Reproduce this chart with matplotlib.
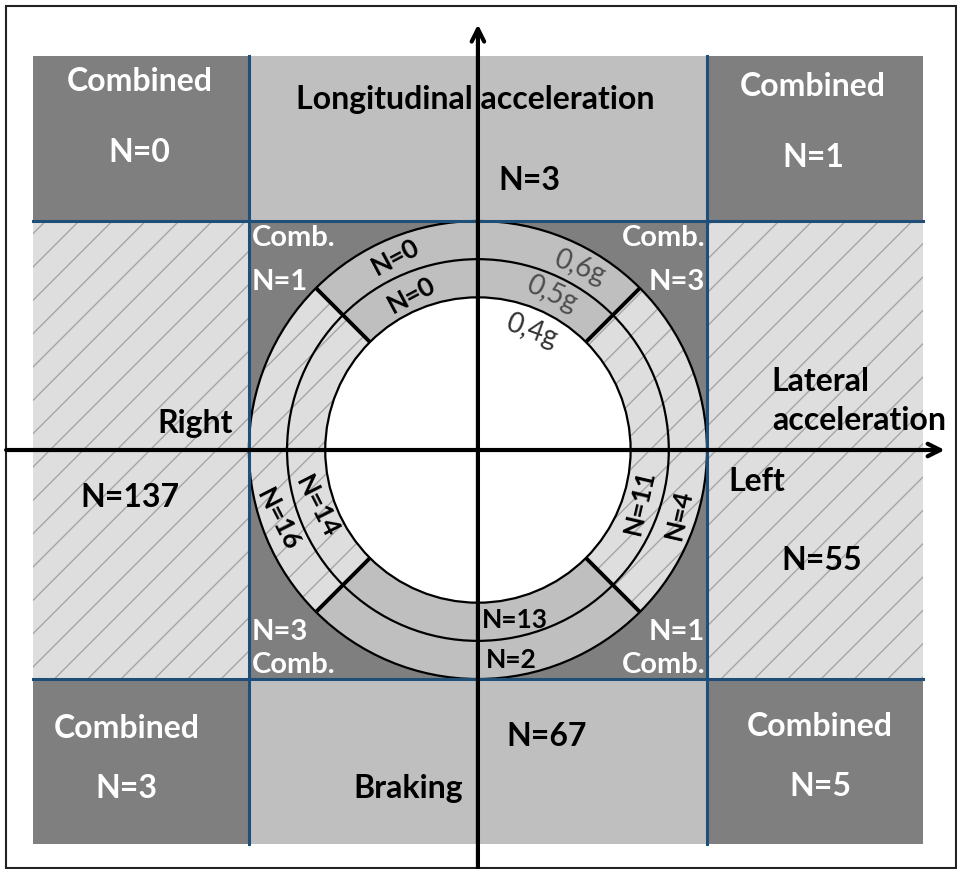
import matplotlib.pyplot as plt
from matplotlib.patches import Rectangle, Wedge, Circle
import numpy as np

# chart values (accelerations in g)
ring_limits = [0.4, 0.5, 0.6]
ring_limit_labels = ['0,4g', '0,5g', '0,6g']
corner_counts = [0, 1, 3, 5]          # top-left, top-right, bottom-left, bottom-right
inner_comb_counts = [1, 3, 3, 1]      # same order, inside the 0.6g square
zone_names = ['Longitudinal acceleration', 'Braking', 'Right', 'Left']
zone_counts = [3, 67, 137, 55]
ring_outer_counts = [0, 16, 2, 4]     # top, left, bottom, right  (0.5g-0.6g)
ring_inner_counts = [0, 14, 13, 11]   # top, left, bottom, right  (0.4g-0.5g)

DARK = '#7f7f7f'
LIGHT = '#bfbfbf'
HATCH_BG = '#dedede'
HATCH_LN = '#a6a6a6'
BLUE = '#1f4e79'
FONT = 'Lato'

plt.rcParams['hatch.linewidth'] = 1.0

fig = plt.figure(figsize=(9.57, 8.7), dpi=100)
ax = fig.add_axes([0, 0, 1, 1])
ax.set_xlim(-1.252, 1.255)
ax.set_ylim(-1.0977, 1.1816)
ax.axis('off')

r_in, r_mid, r_out = ring_limits
sq = r_out
ox, oy = 1.166, 1.032

# outer frame
ax.add_patch(Rectangle((-1.236, -1.095), 2.488, 2.258, fill=False, ec='#222222', lw=1.5, zorder=0))

# outer regions
for sx in (-1, 1):
    for sy in (-1, 1):
        x0 = -ox if sx < 0 else sq
        y0 = -oy if sy < 0 else sq
        ax.add_patch(Rectangle((x0, y0), ox - sq, oy - sq, fc=DARK, ec='none', zorder=1))
for y0 in (sq, -oy):
    ax.add_patch(Rectangle((-sq, y0), 2 * sq, oy - sq, fc=LIGHT, ec='none', zorder=1))
for x0 in (-ox, sq):
    ax.add_patch(Rectangle((x0, -sq), ox - sq, 2 * sq, fc=HATCH_BG, ec=HATCH_LN, lw=0, hatch='/', zorder=1))

# inner square
ax.add_patch(Rectangle((-sq, -sq), 2 * sq, 2 * sq, fc=DARK, ec='none', zorder=2))

# ring sectors
sectors = [(45, 135, False), (135, 225, True), (225, 315, False), (-45, 45, True)]
for t1, t2, hatched in sectors:
    if hatched:
        ax.add_patch(Wedge((0, 0), r_out, t1, t2, width=r_out - r_in, fc=HATCH_BG, ec=HATCH_LN,
                           lw=0, hatch='/', zorder=3))
    else:
        ax.add_patch(Wedge((0, 0), r_out, t1, t2, width=r_out - r_in, fc=LIGHT, ec='none', zorder=3))
ax.add_patch(Circle((0, 0), r_in, fc='white', ec='none', zorder=3))
for r in ring_limits:
    ax.add_patch(Circle((0, 0), r, fill=False, ec='black', lw=1.6, zorder=4))
for a in (45, 135, 225, 315):
    t = np.deg2rad(a)
    ax.plot([r_in * np.cos(t), r_out * np.cos(t)], [r_in * np.sin(t), r_out * np.sin(t)],
            color='black', lw=2.8, zorder=4, solid_capstyle='butt')

# blue grid lines
for v in (-sq, sq):
    ax.plot([v, v], [-oy, oy], color=BLUE, lw=2.2, zorder=5)
    ax.plot([-ox, ox], [v, v], color=BLUE, lw=2.2, zorder=5)

# axes arrows
arw = dict(arrowstyle='->,head_length=0.9,head_width=0.45', lw=3, color='black', shrinkA=0, shrinkB=0)
ax.annotate('', xy=(1.223, 0), xytext=(-1.236, 0), arrowprops=arw, zorder=6)
ax.annotate('', xy=(0, 1.115), xytext=(0, -1.098), arrowprops=arw, zorder=6)


def txt(x, y, s, color='black', size=23, ha='center', rot=0, weight='bold'):
    ax.text(x, y, s, color=color, fontsize=size, ha=ha, va='center', rotation=rot,
            rotation_mode='anchor', fontfamily=FONT, fontweight=weight, zorder=7)


# corner boxes
corner_pos = [(-0.886, 0.967, 0.781), (0.878, 0.956, 0.770),
              (-0.92, -0.726, -0.883), (0.896, -0.723, -0.880)]
for (x, y1, y2), n in zip(corner_pos, corner_counts):
    txt(x, y1, 'Combined', color='white')
    txt(x, y2, f'N={n}', color='white')

# zones
txt(-0.008, 0.920, zone_names[0])
txt(0.136, 0.710, f'N={zone_counts[0]}')
txt(-0.183, -0.883, zone_names[1])
txt(0.181, -0.749, f'N={zone_counts[1]}')
txt(-0.741, 0.073, zone_names[2])
txt(-0.912, -0.121, f'N={zone_counts[2]}')
txt(0.770, 0.183, 'Lateral', ha='left')
txt(0.770, 0.081, 'acceleration', ha='left')
txt(0.655, -0.081, zone_names[3], ha='left')
txt(0.901, -0.288, f'N={zone_counts[3]}')

# combined zones inside the square
inner_pos = [(-0.592, 'left', 0.558, 0.443), (0.595, 'right', 0.558, 0.443),
             (-0.592, 'left', -0.561, -0.474), (0.595, 'right', -0.561, -0.474)]
for (x, ha, yc, yn), n in zip(inner_pos, inner_comb_counts):
    txt(x, yc, 'Comb.', color='white', ha=ha, size=21)
    txt(x, yn, f'N={n}', color='white', ha=ha, size=21)

# ring counts: (angle, rotation)
ring_text_pos = [(113, 28), (199, -63), (None, 0), (-17.5, 77)]
for (ang, rot), n_out, n_in in zip(ring_text_pos, ring_outer_counts, ring_inner_counts):
    if ang is None:
        txt(0.087, -0.548, f'N={n_out}', size=19)
        txt(0.097, -0.443, f'N={n_in}', size=19)
        continue
    t = np.deg2rad(ang)
    txt(0.553 * np.cos(t), 0.553 * np.sin(t), f'N={n_out}', size=19, rot=rot)
    txt(0.445 * np.cos(t), 0.445 * np.sin(t), f'N={n_in}', size=19, rot=rot)

# ring limit labels
lim_pos = [(65.8, 0.345, -20), (64.8, 0.455, -24), (61, 0.551, -21)]
for (ang, r, rot), lab in zip(lim_pos, ring_limit_labels):
    t = np.deg2rad(ang)
    txt(r * np.cos(t), r * np.sin(t), lab, color='#333333' if lab == '0,4g' else '#4d4d4d',
        size=20, rot=rot, weight='normal')

fig.savefig('out.png', dpi=100)
